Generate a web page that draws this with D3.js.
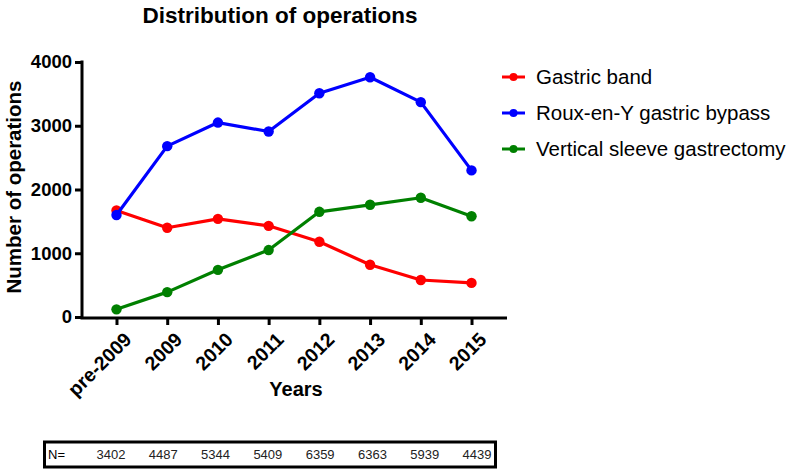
<!DOCTYPE html>
<html><head><meta charset="utf-8">
<script src="https://cdn.jsdelivr.net/npm/d3@7"></script>
<style>body{margin:0;background:#fff}svg{display:block;font-family:"Liberation Sans",Arial,sans-serif}</style>
</head><body><svg id="c" width="791" height="471"></svg>
<script>
const categories = ["pre-2009","2009","2010","2011","2012","2013","2014","2015"];
const gastricBand = [1670,1400,1540,1430,1180,820,580,535];
const rouxEnY = [1600,2680,3050,2910,3510,3760,3370,2300];
const verticalSleeve = [120,390,740,1050,1650,1760,1870,1580];
const nValues = [3402,4487,5344,5409,6359,6363,5939,4439];
const yTicks = [0,1000,2000,3000,4000];
const seriesNames = ["Gastric band","Roux-en-Y gastric bypass","Vertical sleeve gastrectomy"];
const seriesColors = ["#ff0000","#0000ff","#008000"];
const seriesData = [gastricBand, rouxEnY, verticalSleeve];

const svg = d3.select("#c");
const x = d3.scalePoint().domain(categories).range([82,506]).padding(0.68);
const y = d3.scaleLinear().domain([0,4000]).range([317,62]);

// title
svg.append("text").attr("x",280).attr("y",23).attr("text-anchor","middle")
  .attr("font-size",22.5).attr("font-weight","bold").text("Distribution of operations");

// y axis
const ya = svg.append("g").attr("transform","translate(82,0)")
  .call(d3.axisLeft(y).tickValues(yTicks).tickSize(7).tickPadding(3).tickFormat(d3.format("d")));
ya.select(".domain").attr("stroke-width",3).attr("d","M0,"+(y(0)+1.5)+"V"+(y(4000)-1.5));
ya.selectAll(".tick line").attr("stroke-width",3);
ya.selectAll(".tick text").attr("font-size",18.5).attr("font-weight","bold").attr("font-family","Liberation Sans, Arial, sans-serif").attr("fill","#000");

// x axis
const xa = svg.append("g").attr("transform","translate(0,318)")
  .call(d3.axisBottom(x).tickSize(7).tickPadding(4));
xa.select(".domain").attr("stroke-width",3).attr("d","M80.5,0H507");
xa.selectAll(".tick line").attr("stroke-width",3);
xa.selectAll(".tick text").attr("font-size",19.5).attr("font-weight","bold")
  .attr("font-family","Liberation Sans, Arial, sans-serif").attr("fill","#000")
  .attr("text-anchor","end").attr("dy","0").attr("transform","translate(8,15) rotate(-45)");

// axis titles
svg.append("text").attr("transform","translate(21,187) rotate(-90)").attr("text-anchor","middle")
  .attr("font-size",20.5).attr("font-weight","bold").text("Number of operations");
svg.append("text").attr("x",296).attr("y",396).attr("text-anchor","middle")
  .attr("font-size",20).attr("font-weight","bold").text("Years");

// series
const line = d3.line().x((d,i)=>x(categories[i])).y(d=>y(d));
const order = [0,2,1];
order.forEach(k=>{
  const g = svg.append("g");
  g.append("path").datum(seriesData[k]).attr("d",line).attr("fill","none")
    .attr("stroke",seriesColors[k]).attr("stroke-width",3.2).attr("stroke-linejoin","round");
  g.selectAll("circle").data(seriesData[k]).join("circle")
    .attr("cx",(d,i)=>x(categories[i])).attr("cy",d=>y(d)).attr("r",5.2).attr("fill",seriesColors[k]);
});

// legend
const legY = d3.scalePoint().domain(seriesNames).range([77,149]);
seriesNames.forEach((n,k)=>{
  const yy = legY(n);
  svg.append("line").attr("x1",502).attr("x2",525).attr("y1",yy).attr("y2",yy)
    .attr("stroke",seriesColors[k]).attr("stroke-width",3);
  svg.append("circle").attr("cx",513.5).attr("cy",yy).attr("r",4).attr("fill",seriesColors[k]);
  svg.append("text").attr("x",536).attr("y",yy+7).attr("font-size",20.5).text(n);
});

// N table
svg.append("rect").attr("x",44.5).attr("y",442).attr("width",451).attr("height",25)
  .attr("fill","none").attr("stroke","#000").attr("stroke-width",3);
svg.append("text").attr("x",48).attr("y",459).attr("font-size",13).text("N=");
const nx = d3.scalePoint().domain(categories).range([111,477]);
svg.selectAll(".nv").data(nValues).join("text").attr("class","nv")
  .attr("x",(d,i)=>nx(categories[i])).attr("y",459).attr("text-anchor","middle")
  .attr("font-size",13).attr("fill","#222").text(d=>d);
</script></body></html>
